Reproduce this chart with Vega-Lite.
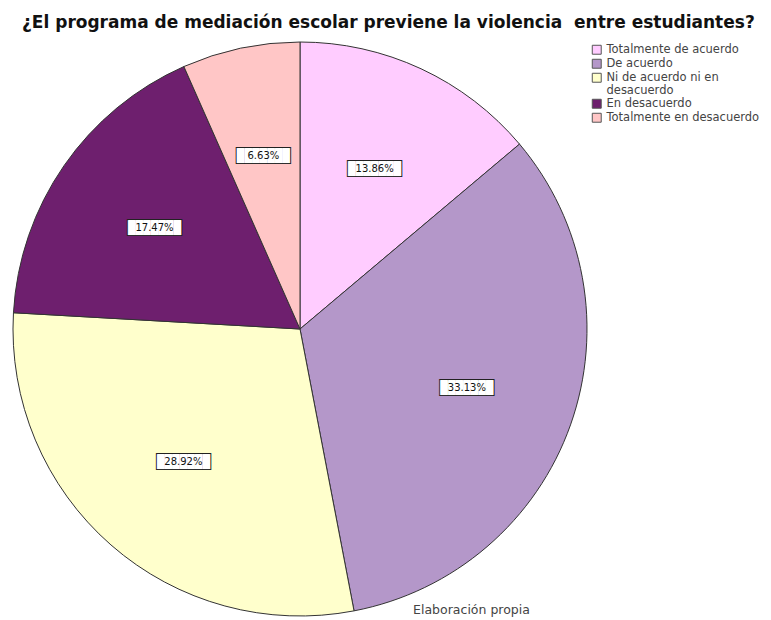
{
  "$schema": "https://vega.github.io/schema/vega-lite/v6.json",
  "width": 600,
  "height": 570,
  "padding": {"left": 0, "top": 14, "right": 0, "bottom": 0},
  "background": "white",
  "config": {"view": {"stroke": null}, "font": "DejaVu Sans"},
  "title": {
    "text": "¿El programa de mediación escolar previene la violencia \u00a0entre estudiantes?",
    "anchor": "start",
    "dx": 22,
    "fontSize": 17,
    "fontWeight": "bold",
    "font": "DejaVu Sans",
    "color": "#111",
    "offset": 8
  },
  "datasets": {
    "pie": [
      {"categoria": "Totalmente de acuerdo", "porcentaje": 0.1386, "orden": 1},
      {"categoria": "De acuerdo", "porcentaje": 0.3313, "orden": 2},
      {"categoria": "Ni de acuerdo ni en desacuerdo", "porcentaje": 0.2892, "orden": 3},
      {"categoria": "En desacuerdo", "porcentaje": 0.1747, "orden": 4},
      {"categoria": "Totalmente en desacuerdo", "porcentaje": 0.0663, "orden": 5}
    ],
    "nota": [{"nota": "Elaboración propia"}]
  },
  "layer": [
    {
      "data": {"name": "pie"},
      "mark": {"type": "arc", "outerRadius": 287, "stroke": "#333", "strokeWidth": 1},
      "encoding": {
        "theta": {"field": "porcentaje", "type": "quantitative", "stack": true},
        "order": {"field": "orden", "type": "quantitative"},
        "color": {
          "field": "categoria",
          "type": "nominal",
          "scale": {
            "domain": ["Totalmente de acuerdo", "De acuerdo", "Ni de acuerdo ni en desacuerdo", "En desacuerdo", "Totalmente en desacuerdo"],
            "range": ["#FFCCFF", "#B497C9", "#FFFFCC", "#6E1F6E", "#FFC6C6"]
          },
          "legend": {
            "title": null,
            "orient": "none",
            "legendX": 591,
            "legendY": 0,
            "symbolType": "square",
            "symbolSize": 80,
            "symbolStrokeColor": "#555",
            "symbolStrokeWidth": 1,
            "labelFont": "DejaVu Sans",
            "labelFontSize": 11.5,
            "labelColor": "#444",
            "labelOffset": 4,
            "rowPadding": 0,
            "labelExpr": "datum.label == 'Ni de acuerdo ni en desacuerdo' ? ['Ni de acuerdo ni en', 'desacuerdo'] : datum.label"
          }
        }
      }
    },
    {
      "data": {"name": "pie"},
      "mark": {"type": "text", "radius": 177, "fontSize": 12.6, "font": "DejaVu Sans Mono", "fill": "#222", "stroke": "#222", "strokeWidth": 2, "baseline": "middle", "align": "center"},
      "encoding": {
        "theta": {"field": "porcentaje", "type": "quantitative", "stack": true},
        "order": {"field": "orden", "type": "quantitative"},
        "text": {"value": "███████"}
      }
    },
    {
      "data": {"name": "pie"},
      "mark": {"type": "text", "radius": 177, "fontSize": 12.6, "font": "DejaVu Sans Mono", "fill": "white", "baseline": "middle", "align": "center"},
      "encoding": {
        "theta": {"field": "porcentaje", "type": "quantitative", "stack": true},
        "order": {"field": "orden", "type": "quantitative"},
        "text": {"value": "███████"}
      }
    },
    {
      "data": {"name": "pie"},
      "mark": {"type": "text", "radius": 177, "fontSize": 10, "color": "#111", "font": "DejaVu Sans", "baseline": "middle", "align": "center"},
      "encoding": {
        "theta": {"field": "porcentaje", "type": "quantitative", "stack": true},
        "order": {"field": "orden", "type": "quantitative"},
        "text": {"field": "porcentaje", "type": "quantitative", "format": ".2%"}
      }
    },
    {
      "data": {"name": "nota"},
      "mark": {"type": "point", "opacity": 0},
      "encoding": {
        "x": {
          "field": "nota",
          "type": "nominal",
          "axis": {
            "title": "Elaboración propia",
            "labels": false,
            "ticks": false,
            "domain": false,
            "titleFont": "DejaVu Sans",
            "titleFontSize": 12.5,
            "titleFontWeight": "normal",
            "titleColor": "#444",
            "titleX": 471,
            "titleY": -11,
            "titleAnchor": "middle"
          }
        }
      }
    }
  ]
}
